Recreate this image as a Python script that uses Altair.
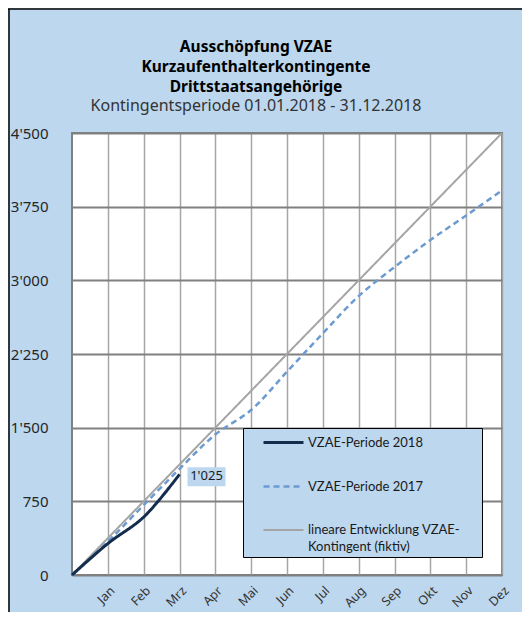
import altair as alt
import pandas as pd

months = ["Jan", "Feb", "Mrz", "Apr", "Mai", "Jun", "Jul", "Aug", "Sep", "Okt", "Nov", "Dez"]
x_2018 = [0, 1, 2, 3]
values_2018 = [0, 320, 590, 1025]
x_2017 = [0, 1, 2, 3, 4, 5, 6, 7, 8, 9, 10, 11, 12]
values_2017 = [0, 340, 712, 1080, 1430, 1680, 2070, 2460, 2840, 3135, 3410, 3660, 3915]
x_linear = [0, 12]
values_linear = [0, 4500]
y_ticks = [0, 750, 1500, 2250, 3000, 3750, 4500]

S18 = "VZAE-Periode 2018"
S17 = "VZAE-Periode 2017"
SLIN = "lineare Entwicklung VZAE-Kontingent (fiktiv)"
series_order = [S18, S17, SLIN]

rows = []
for x, v in zip(x_linear, values_linear):
    rows.append({"m": x, "v": v, "s": SLIN, "o": 0})
for x, v in zip(x_2017, values_2017):
    rows.append({"m": x, "v": v, "s": S17, "o": 1})
for x, v in zip(x_2018, values_2018):
    rows.append({"m": x, "v": v, "s": S18, "o": 2})
df = pd.DataFrame(rows)

label_df = pd.DataFrame({"m": [x_2018[-1]], "v": [values_2018[-1]]})

BG = "#BDD7EE"
FONT = "Noto Sans"
swiss = "replace(format(datum.value, ','), ',', \"'\")"

month_expr = "[" + ",".join("'%s'" % m for m in months) + "][datum.value - 1]"

xs = alt.Scale(domain=[0, 12], nice=False, zero=False)
ys = alt.Scale(domain=[0, 4500], nice=False)

x_axis = alt.Axis(
    values=list(range(1, 13)), labelExpr=month_expr, labelAngle=-45, title=None,
    labelFont=FONT, labelFontSize=12.5, labelColor="#333333", ticks=False,
    labelOverlap=False, domain=False, labelPadding=9,
    gridColor="#A6A6A6", gridWidth=1.5)
y_axis = alt.Axis(
    values=y_ticks, labelExpr=swiss, title=None, labelFont=FONT,
    labelFontSize=15, labelColor="#262626", ticks=False, domain=False,
    labelAlign="right", labelBaseline="middle",
    labelOverlap=False, labelPadding=24, gridColor="#808080", gridWidth=2)

legend = alt.Legend(
    title=" ", titleOrient="right", titlePadding=19, titleFontSize=4,
    titleColor=BG, titleOpacity=0,
    orient="none", legendX=171, legendY=295,
    fillColor=BG, strokeColor="#000000", padding=3, symbolOffset=26,
    symbolType="M-2,0L2,0", symbolSize=400, labelFont="Lato", labelFontSize=13,
    labelColor="#1a1a1a", rowPadding=25, labelLimit=300, labelOffset=13,
    labelExpr="datum.label == '" + SLIN + "' ? ['lineare Entwicklung VZAE-', 'Kontingent (fiktiv)'] : datum.label",
)

lines = alt.Chart(df).mark_line(clip=True).encode(
    x=alt.X("m:Q", scale=xs, axis=x_axis),
    y=alt.Y("v:Q", scale=ys, axis=y_axis),
    color=alt.Color("s:N", scale=alt.Scale(domain=series_order,
                    range=["#142D4C", "#6C9BD2", "#A5A5A5"]), legend=legend),
    strokeDash=alt.StrokeDash("s:N", scale=alt.Scale(domain=series_order,
                    range=[[1, 0], [6, 4], [1, 0]]), legend=legend),
    strokeWidth=alt.StrokeWidth("s:N", scale=alt.Scale(domain=series_order,
                    range=[3, 2, 1]), legend=legend),
    order=alt.Order("o:Q"),
    detail="s:N",
)

lin_layer = lines.transform_filter(alt.datum.s == SLIN)
l17 = lines.transform_filter(alt.datum.s == S17).mark_line(interpolate="catmull-rom")
l18 = lines.transform_filter(alt.datum.s == S18).mark_line(interpolate="catmull-rom")

box = alt.Chart(label_df).mark_rect(
    color=BG, xOffset=8, x2Offset=46, yOffset=-7, y2Offset=12
).encode(x=alt.X("m:Q", scale=xs, axis=x_axis), x2="m:Q",
         y=alt.Y("v:Q", scale=ys, axis=y_axis), y2="v:Q")

txt = alt.Chart(label_df).transform_calculate(
    t="replace(format(datum.v, ','), ',', \"'\")"
).mark_text(font=FONT, fontSize=13, color="#1a1a1a", dx=27, dy=2, align="center", baseline="middle").encode(
    x=alt.X("m:Q", scale=xs, axis=x_axis), y=alt.Y("v:Q", scale=ys, axis=y_axis), text="t:N")

frame_df = pd.DataFrame({"a": [0]})
left_border = alt.Chart(frame_df).mark_rule(color="#000000", strokeWidth=1.5).encode(
    x=alt.value(-63), y=alt.value(-124), y2=alt.value(479))
top_border = alt.Chart(frame_df).mark_rule(color="#000000", strokeWidth=1.5).encode(
    x=alt.value(-64), x2=alt.value(450), y=alt.value(-124))

chart = alt.layer(lin_layer, l17, l18, box, txt, left_border, top_border).properties(
    width=430, height=442,
    autosize=alt.AutoSizeParams(type="none"),
    padding={"left": 64, "top": 125, "right": 20, "bottom": 37},
    title=alt.TitleParams(
        text=["Ausschöpfung VZAE", "Kurzaufenthalterkontingente", "Drittstaatsangehörige"],
        subtitle="Kontingentsperiode 01.01.2018 - 31.12.2018",
        font=FONT, fontSize=15.5, fontWeight="bold", color="#000000", lineHeight=20,
        subtitleFont=FONT, subtitleFontSize=16, subtitleColor="#333333",
        subtitlePadding=3, anchor="middle", dx=-31, offset=-106,
    ),
).configure(
    background=BG, style={"guide-label": {"lineHeight": 17}}
).configure_view(
    stroke="#808080", strokeWidth=2, fill="#FFFFFF"
)

chart.save("out.html", embed_options={"renderer": "svg", "actions": False})
